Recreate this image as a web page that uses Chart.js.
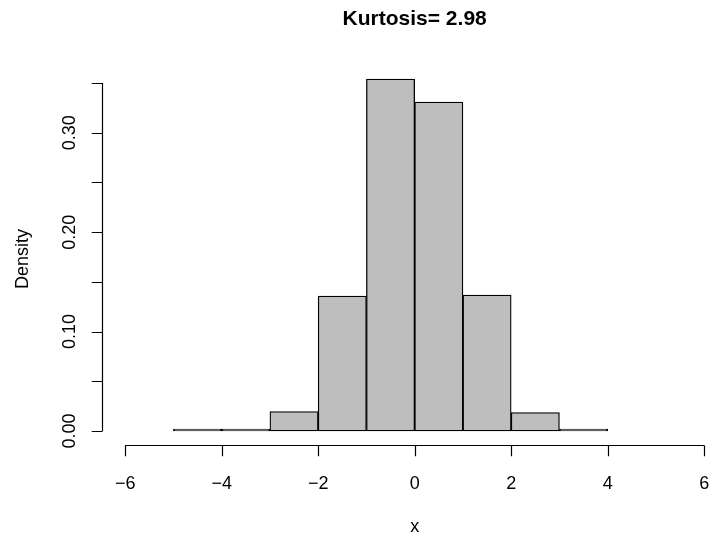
<!DOCTYPE html>
<html>
<head>
<meta charset="utf-8">
<script src="https://cdn.jsdelivr.net/npm/chart.js@4/dist/chart.umd.min.js"></script>
<style>
  body { margin: 0; background: #ffffff; }
  #myChart { display: block; }
</style>
</head>
<body>
<canvas id="myChart" width="716" height="540"></canvas>
<script>
// histogram bins (left edges, width 1) and their densities
const binStarts = [-5, -4, -3, -2, -1, 0, 1, 2, 3];
const densities = [0.0002, 0.0012, 0.0196, 0.1358, 0.354, 0.331, 0.1368, 0.0186, 0.001];

const xTicks = [-6, -4, -2, 0, 2, 4, 6];
const xTickLabels = ['\u22126', '\u22124', '\u22122', '0', '2', '4', '6'];
const yTicks = [0, 0.05, 0.10, 0.15, 0.20, 0.25, 0.30, 0.35];
const yTickLabels = ['0.00', '', '0.10', '', '0.20', '', '0.30', ''];

const chartTitle = 'Kurtosis= 2.98';
const xTitle = 'x';
const yTitle = 'Density';

const font = '"Liberation Sans", Arial, Helvetica, sans-serif';

const barData = binStarts.map((start, i) => ({ x: start + 0.5, y: densities[i] }));

// R style axes: detached lines, outward ticks, rotated y labels
const rAxes = {
  id: 'rAxes',
  afterDraw(chart) {
    const ctx = chart.ctx;
    const xs = chart.scales.x;
    const ys = chart.scales.y;
    const area = chart.chartArea;
    const tick = 10.8;

    ctx.save();
    ctx.strokeStyle = '#000000';
    ctx.fillStyle = '#000000';
    ctx.lineWidth = 1.2;

    // x axis
    const xBase = Math.round(area.bottom) + 0.5;
    ctx.beginPath();
    ctx.moveTo(xs.getPixelForValue(xTicks[0]), xBase);
    ctx.lineTo(xs.getPixelForValue(xTicks[xTicks.length - 1]), xBase);
    xTicks.forEach(v => {
      const px = Math.round(xs.getPixelForValue(v)) + 0.5;
      ctx.moveTo(px, xBase);
      ctx.lineTo(px, xBase + tick);
    });
    ctx.stroke();

    ctx.font = '18px ' + font;
    ctx.textAlign = 'center';
    ctx.textBaseline = 'middle';
    xTicks.forEach((v, i) => {
      ctx.fillText(xTickLabels[i], xs.getPixelForValue(v), 484);
    });

    // y axis
    const yBase = Math.round(area.left) + 0.5;
    ctx.beginPath();
    ctx.moveTo(yBase, ys.getPixelForValue(yTicks[0]));
    ctx.lineTo(yBase, ys.getPixelForValue(yTicks[yTicks.length - 1]));
    yTicks.forEach(v => {
      const py = Math.round(ys.getPixelForValue(v)) + 0.5;
      ctx.moveTo(yBase, py);
      ctx.lineTo(yBase - tick, py);
    });
    ctx.stroke();

    yTicks.forEach((v, i) => {
      if (!yTickLabels[i]) return;
      ctx.save();
      ctx.translate(70, ys.getPixelForValue(v));
      ctx.rotate(-Math.PI / 2);
      ctx.fillText(yTickLabels[i], 0, 0);
      ctx.restore();
    });

    // axis titles
    const midX = xs.getPixelForValue(0);
    const midY = (area.top + area.bottom) / 2;
    ctx.fillText(xTitle, midX, 527);
    ctx.save();
    ctx.translate(23, midY + 4);
    ctx.rotate(-Math.PI / 2);
    ctx.fillText(yTitle, 0, 0);
    ctx.restore();

    // main title
    ctx.font = 'bold 21px ' + font;
    ctx.fillText(chartTitle, midX, 19);
    ctx.restore();
  }
};

const ctx = document.getElementById('myChart').getContext('2d');
const myChart = new Chart(ctx, {
  type: 'bar',
  data: {
    datasets: [{
      label: 'x',
      data: barData,
      backgroundColor: '#BEBEBE',
      borderColor: '#000000',
      borderWidth: 1.3,
      borderSkipped: false,
      minBarLength: 2,
      barPercentage: 1,
      categoryPercentage: 1
    }]
  },
  options: {
    responsive: false,
    animation: false,
    layout: {
      padding: { left: 102, right: 0, top: 65, bottom: 95 }
    },
    scales: {
      x: {
        type: 'linear',
        min: -6.48,
        max: 6.245,
        offset: false,
        display: false
      },
      y: {
        min: -0.0141,
        max: 0.3682,
        display: false
      }
    },
    plugins: {
      legend: { display: false },
      title: { display: false },
      tooltip: { enabled: false }
    }
  },
  plugins: [rAxes]
});
</script>
</body>
</html>
